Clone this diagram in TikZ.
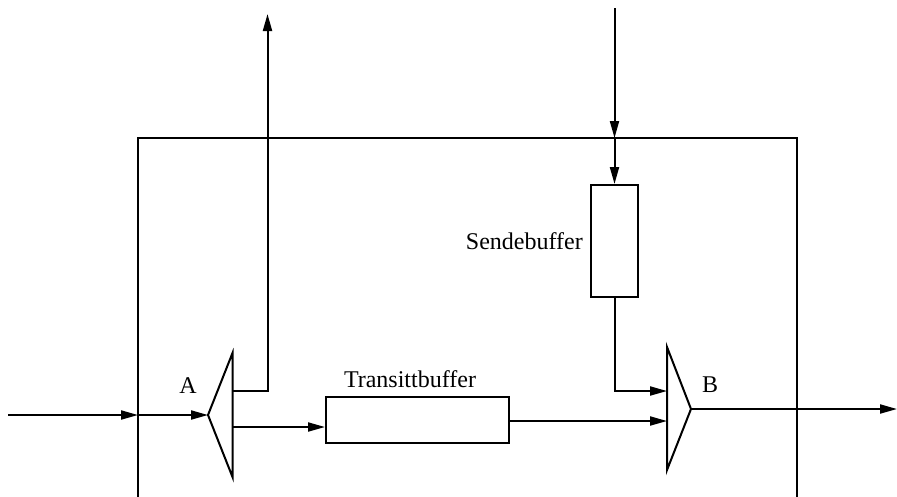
\documentclass[tikz,border=0pt]{standalone}
\usepackage{fontspec}
\setmainfont{Liberation Serif}
\usetikzlibrary{arrows.meta}
\tikzset{
  wire/.style={line width=2pt, line join=miter},
  arr/.style={wire, -{Triangle[length=17pt,width=9pt]}},
  bufbox/.style={draw, line width=2pt, inner sep=0pt},
  lbl/.style={font=\fontsize{24}{28}\selectfont, inner sep=0pt}
}
\begin{document}
\begin{tikzpicture}[x=1pt,y=-1pt]
\useasboundingbox (0,0) rectangle (897,496);
% outer box (bottom edge outside picture)
\draw[wire] (138,500) -- (138,138) -- (797,138) -- (797,500);
% buffers
\node[bufbox, minimum width=183pt, minimum height=46pt] (tb) at (417.5,420) {};
\node[bufbox, minimum width=47pt, minimum height=112pt] (sb) at (614.5,241) {};
\node[lbl, anchor=south] (tbl) at (410,388) {Transittbuffer};
\node[lbl, anchor=east] (sbl) at (583,241) {Sendebuffer};
% triangle A
\coordinate (Atip) at (208,415);
\coordinate (Atop) at (232.5,353);
\coordinate (Abot) at (232.5,477);
\draw[wire] (Atop) -- (Atip) -- (Abot) -- cycle;
\node[lbl] (Alab) at (188,386) {A};
% triangle B
\coordinate (Btip) at (691,409);
\coordinate (Btop) at (667,347);
\coordinate (Bbot) at (667,470);
\draw[wire] (Btop) -- (Btip) -- (Bbot) -- cycle;
\node[lbl] (Blab) at (710,385) {B};
% connectors
\coordinate (inL) at (8,415);
\coordinate (inBox) at (138,415);
\draw[arr] (inL) -- (inBox);
\draw[arr] (inBox) -- (Atip);
\coordinate (Aup1) at (232.5,391);
\coordinate (Aup2) at (267.5,391);
\coordinate (upEnd) at (267.5,14);
\draw[arr] (Aup1) -- (Aup2) -- (upEnd);
\coordinate (Aout) at (232.5,427);
\draw[arr] (Aout) -- (tb.west |- Aout);
\coordinate (Bin2) at (667,421);
\draw[arr] (tb.east |- Bin2) -- (Bin2);
\coordinate (topIn) at (614.5,8);
\coordinate (boxTop) at (614.5,138);
\draw[arr] (topIn) -- (boxTop);
\draw[arr] (boxTop) -- (sb.north);
\coordinate (Bin1) at (667,391);
\draw[arr] (sb.south) -- (sb.south |- Bin1) -- (Bin1);
\coordinate (outR) at (897,409);
\draw[arr] (Btip) -- (outR);
\end{tikzpicture}
\end{document}
